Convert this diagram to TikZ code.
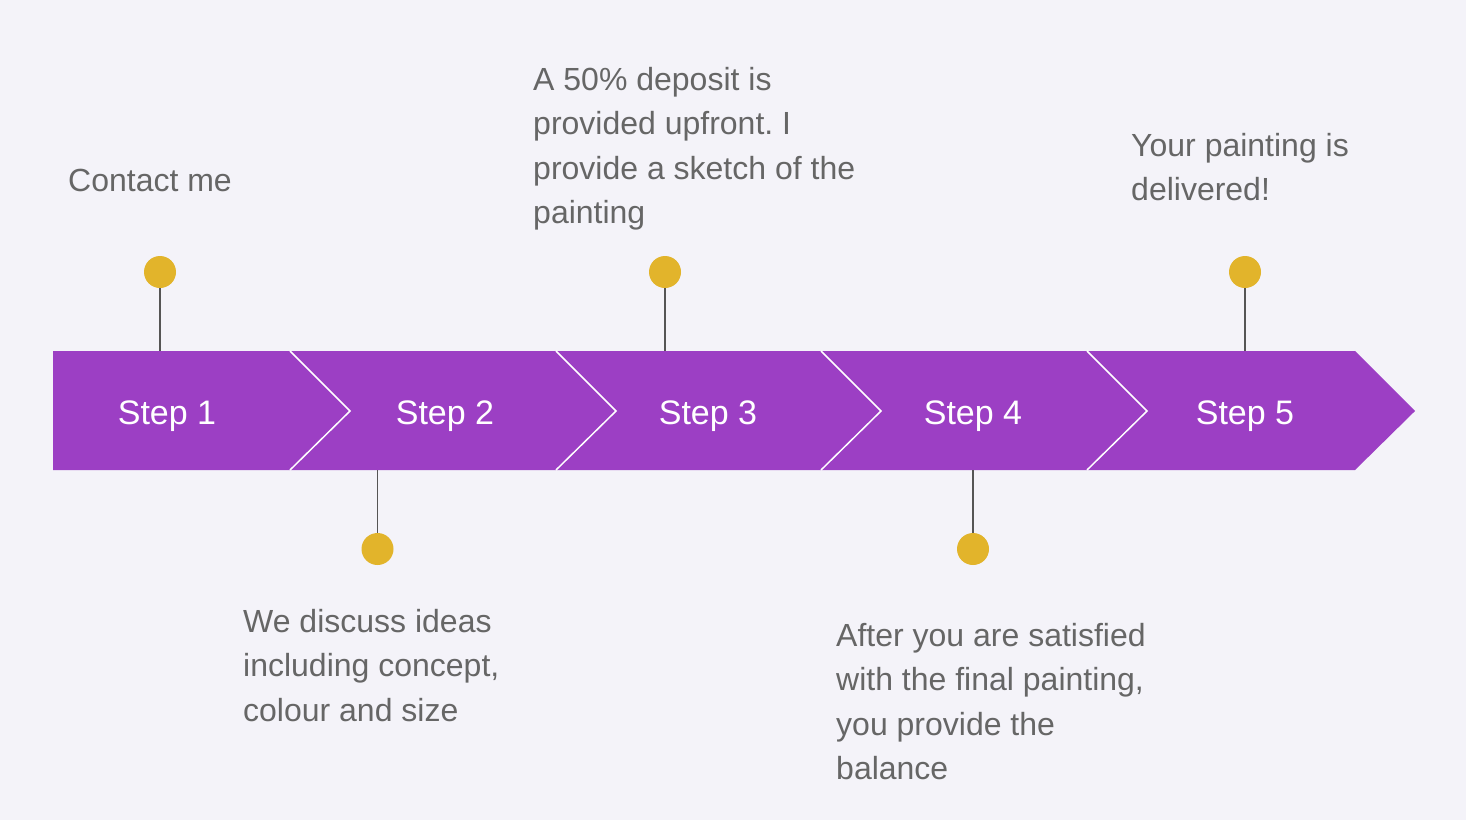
\documentclass[tikz,border=0pt]{standalone}
\usepackage{fontspec}
\setmainfont{Liberation Sans}
\frenchspacing
\definecolor{bg}{HTML}{F4F3F9}
\definecolor{purp}{HTML}{9C3FC4}
\definecolor{gold}{HTML}{E2B42B}
\definecolor{txt}{HTML}{666666}
\definecolor{stemc}{HTML}{555555}
\begin{document}
\begin{tikzpicture}[x=1pt,y=-1pt,
  dot/.style={circle,fill=gold,minimum size=32pt,inner sep=0pt},
  steplabel/.style={text=white,font=\fontsize{34}{40}\selectfont,anchor=base,inner sep=0pt},
  desc/.style={text=txt,font=\fontsize{32}{44.5}\selectfont\frenchspacing,anchor=base west,inner sep=0pt},
  sepline/.style={draw=white,line width=1.5pt},
  stemline/.style={draw=stemc,line width=1.3pt}]
\useasboundingbox (0,0) rectangle (1466,820);
\fill[bg] (0,0) rectangle (1466,820);
% arrow bar
\fill[purp] (53,351) -- (1355,351) -- (1415,411) -- (1355,470) -- (53,470) -- cycle;
\foreach \x in {290,556,821,1087}
  \draw[sepline] (\x,351) -- (\x+60,411) -- (\x,470);
% step labels
\node[steplabel] (s1) at (167,424) {Step 1};
\node[steplabel] (s2) at (445,424) {Step 2};
\node[steplabel] (s3) at (708,424) {Step 3};
\node[steplabel] (s4) at (973,424) {Step 4};
\node[steplabel] (s5) at (1245,424) {Step 5};
% anchor points on bar
\coordinate (b1) at (160,351);
\coordinate (b2) at (377.5,470);
\coordinate (b3) at (665,351);
\coordinate (b4) at (973,470);
\coordinate (b5) at (1245,351);
% dots
\node[dot] (d1) at (160,272) {};
\node[dot] (d2) at (377.5,549) {};
\node[dot] (d3) at (665,272) {};
\node[dot] (d4) at (973,549) {};
\node[dot] (d5) at (1245,272) {};
\foreach \i in {1,...,5}
  \draw[stemline] (d\i) -- (b\i);
% descriptions
\node[desc] (t1) at (68,191) {\begin{tabular}[t]{@{}l@{}}Contact me\end{tabular}};
\node[desc] (t2) at (243,632) {\begin{tabular}[t]{@{}l@{}}We discuss ideas\\including concept,\\colour and size\end{tabular}};
\node[desc] (t3) at (533,90) {\begin{tabular}[t]{@{}l@{}}A 50\% deposit is\\provided upfront. I\\provide a sketch of the\\painting\end{tabular}};
\node[desc] (t4) at (836,646) {\begin{tabular}[t]{@{}l@{}}After you are satisfied\\with the final painting,\\you provide the\\balance\end{tabular}};
\node[desc] (t5) at (1131,156) {\begin{tabular}[t]{@{}l@{}}Your painting is\\delivered!\end{tabular}};
\end{tikzpicture}
\end{document}
